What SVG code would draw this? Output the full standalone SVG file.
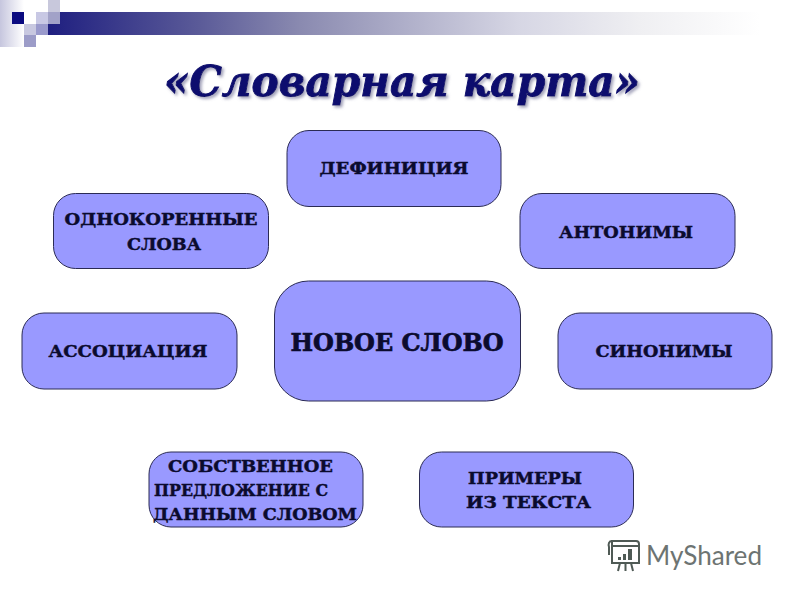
<svg xmlns="http://www.w3.org/2000/svg" width="800" height="600" viewBox="0 0 800 600">
<style>
.n{fill:#9999ff;stroke:#2b2b55;stroke-width:1}
.t{font-family:"DejaVu Serif","Liberation Serif",serif;font-weight:700;font-size:17px;fill:#0b0b2e;stroke:#0b0b2e;stroke-width:.45}
.b{font-size:24px;stroke-width:.7}
.m{text-anchor:middle}
</style>
<defs>
<linearGradient id="bar" x1="0" x2="1" y1="0" y2="0"><stop offset="0" stop-color="#1f1f80"/><stop offset="0.21" stop-color="#5a5a98"/><stop offset="0.354" stop-color="#8a8ab0"/><stop offset="0.66" stop-color="#d6d6e4"/><stop offset="0.83" stop-color="#efeff2"/><stop offset="1" stop-color="#ffffff"/></linearGradient>
<linearGradient id="side" x1="0" x2="1" y1="0" y2="0"><stop offset="0" stop-color="#c6c6de"/><stop offset="1" stop-color="#ffffff"/></linearGradient>
<filter id="sh" x="-5%" y="-20%" width="110%" height="150%"><feDropShadow dx="2" dy="2" stdDeviation="1.5" flood-color="#8a8aa8" flood-opacity="0.8"/></filter>
</defs>
<rect width="800" height="600" fill="#fff"/>
<g id="header">
<rect x="48" y="12" width="712" height="23" fill="url(#bar)"/>
<rect x="0" y="0" width="24" height="47" fill="url(#side)"/>
<rect x="12" y="12" width="12" height="12" fill="#0a0a80"/>
<rect x="48" y="0" width="12" height="12" fill="#c8c8dc"/>
<rect x="36" y="12" width="12" height="12" fill="#c8c8e4"/>
<rect x="48" y="12" width="12" height="12" fill="#a2a2c8"/>
<rect x="24" y="24" width="12" height="11" fill="#c8c8e0"/>
<rect x="36" y="24" width="12" height="11" fill="#9a9acc"/>
<rect x="24" y="35" width="12" height="12" fill="#9c9cc8"/>
</g>
<text id="title" x="402" y="96" text-anchor="middle" textLength="476" lengthAdjust="spacingAndGlyphs" font-family="'DejaVu Serif','Liberation Serif',serif" font-weight="700" font-style="italic" font-size="43" fill="#0a0a6e" stroke="#0a0a6e" stroke-width="1" filter="url(#sh)">«Словарная карта»</text>
<g id="connectors"></g>
<g id="node-def"><rect class="n" x="287" y="130.500" width="214" height="76" rx="22"/><text class="t m" x="394" y="174" textLength="149" lengthAdjust="spacingAndGlyphs">ДЕФИНИЦИЯ</text></g>
<g id="node-odn"><rect class="n" x="53.500" y="193.500" width="215" height="75" rx="22"/><text class="t m" x="161" y="225" textLength="193" lengthAdjust="spacingAndGlyphs">ОДНОКОРЕННЫЕ</text><text class="t m" x="164" y="250" textLength="74" lengthAdjust="spacingAndGlyphs">СЛОВА</text></g>
<g id="node-ant"><rect class="n" x="520" y="193.500" width="215" height="75" rx="22"/><text class="t m" x="626" y="238" textLength="134" lengthAdjust="spacingAndGlyphs">АНТОНИМЫ</text></g>
<g id="node-ass"><rect class="n" x="22" y="313" width="215" height="76" rx="22"/><text class="t m" x="128" y="357" textLength="159" lengthAdjust="spacingAndGlyphs">АССОЦИАЦИЯ</text></g>
<g id="node-new"><rect class="n" x="274.500" y="281" width="246" height="120" rx="34"/><text class="t b m" x="397" y="351" textLength="213" lengthAdjust="spacingAndGlyphs">НОВОЕ СЛОВО</text></g>
<g id="node-syn"><rect class="n" x="558" y="313" width="214" height="76" rx="22"/><text class="t m" x="664" y="357" textLength="137" lengthAdjust="spacingAndGlyphs">СИНОНИМЫ</text></g>
<g id="node-sob"><rect class="n" x="149" y="452" width="214" height="75" rx="22"/><text class="t" x="168" y="472" textLength="165" lengthAdjust="spacingAndGlyphs">СОБСТВЕННОЕ</text><text class="t" x="154" y="496" textLength="174" lengthAdjust="spacingAndGlyphs">ПРЕДЛОЖЕНИЕ С</text><text class="t" x="153" y="520" textLength="204" lengthAdjust="spacingAndGlyphs">ДАННЫМ СЛОВОМ</text></g>
<g id="node-pri"><rect class="n" x="419.500" y="452" width="214" height="75" rx="22"/><text class="t" x="468" y="484" textLength="114" lengthAdjust="spacingAndGlyphs">ПРИМЕРЫ</text><text class="t" x="466" y="508" textLength="125" lengthAdjust="spacingAndGlyphs">ИЗ ТЕКСТА</text></g>
<g id="logo">
<g fill="none" stroke="#4f5a55" stroke-width="2">
<path d="M612 541h24c2 0 3 1 3 3v2h-27z M612 541c-3 0-4 3-3 6v8"/>
<rect x="612" y="546" width="27" height="17"/>
<path d="M620 563l-2 8M625.500 563v8M631 563l2 8"/>
</g>
<path fill="#4f5a55" d="M618 557h3v3h-3zM623 554h3v6h-3zM628 549h4v11h-4z"/>
<text x="646" y="565" font-family="'Lato','Open Sans',sans-serif" font-size="26" fill="#6d7472" textLength="116" lengthAdjust="spacingAndGlyphs">MyShared</text>
</g>
</svg>
